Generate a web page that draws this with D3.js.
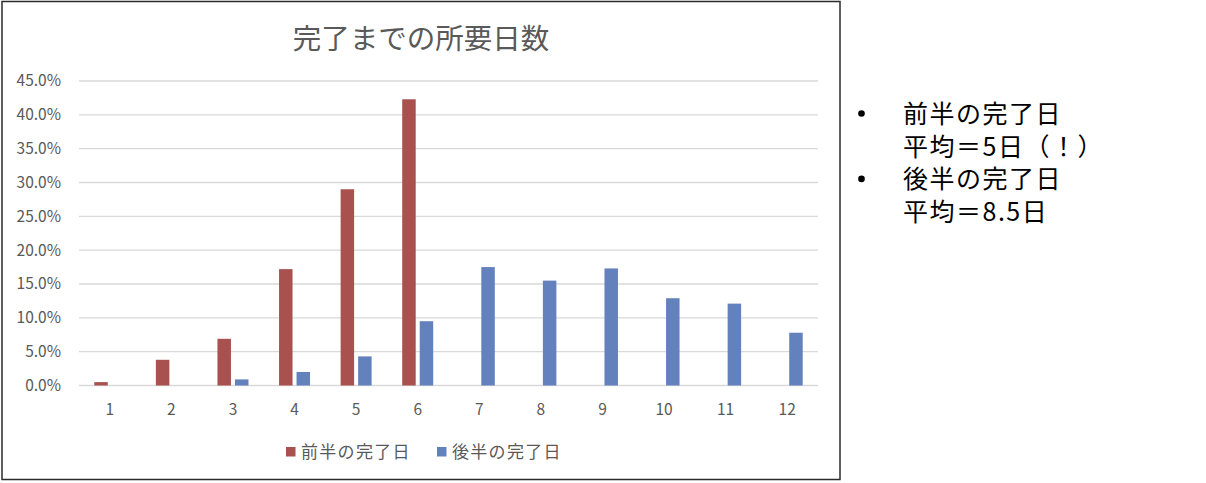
<!DOCTYPE html>
<html lang="ja">
<head>
<meta charset="utf-8">
<script src="https://cdn.jsdelivr.net/npm/d3@7/dist/d3.min.js"></script>
<style>
  html, body { margin: 0; padding: 0; background: #fff; }
  svg { display: block; }
  text { font-family: "Noto Sans CJK JP", "Noto Sans", sans-serif; }
</style>
</head>
<body>
<svg id="chart" width="1206" height="483"></svg>
<script>
// Days until completion (1–12) and share of items per half-period, in percent
const categories = [1, 2, 3, 4, 5, 6, 7, 8, 9, 10, 11, 12];
const firstHalf  = [0.5, 3.8, 6.9, 17.2, 29.0, 42.3, 0, 0, 0, 0, 0, 0];
const secondHalf = [0, 0, 0.9, 2.0, 4.3, 9.5, 17.5, 15.5, 17.3, 12.9, 12.1, 7.8];
const seriesNames = ["前半の完了日", "後半の完了日"];
const yTicks = [0, 5, 10, 15, 20, 25, 30, 35, 40, 45];
const titleText = "完了までの所要日数";
const notes = [
  { bullet: true,  text: "前半の完了日" },
  { bullet: false, text: "平均＝5日（！）" },
  { bullet: true,  text: "後半の完了日" },
  { bullet: false, text: "平均＝8.5日" }
];

const colors = ["#A9514F", "#6381BC"];
const textGrey = "#595959";

const svg = d3.select("#chart");

// Chart frame
svg.append("rect")
  .attr("x", 2).attr("y", 1.5)
  .attr("width", 838).attr("height", 478)
  .attr("fill", "#fff")
  .attr("stroke", "#2b2b2b")
  .attr("stroke-width", 1.5);

// Title
svg.append("text")
  .attr("x", 421).attr("y", 48.5)
  .attr("text-anchor", "middle")
  .attr("font-size", 28.5)
  .attr("fill", textGrey)
  .text(titleText);

const plot = { left: 79, right: 818, top: 81, bottom: 385.5 };

const x = d3.scaleBand()
  .domain(categories)
  .range([plot.left, plot.right])
  .paddingInner(0).paddingOuter(0);

const xSeries = d3.scaleBand()
  .domain([0, 1])
  .range([0, 31])
  .paddingInner(0.23);

const y = d3.scaleLinear()
  .domain([0, 45])
  .range([plot.bottom, plot.top]);

// Gridlines
svg.append("g")
  .selectAll("line")
  .data(yTicks)
  .join("line")
  .attr("x1", plot.left).attr("x2", plot.right)
  .attr("y1", d => y(d)).attr("y2", d => y(d))
  .attr("stroke", "#D9D9D9")
  .attr("stroke-width", 1.3);

// Y axis labels
const yAxis = d3.axisLeft(y)
  .tickValues(yTicks)
  .tickSize(0)
  .tickPadding(0)
  .tickFormat(d => d.toFixed(1) + "%");
svg.append("g")
  .attr("transform", `translate(61,0)`)
  .call(yAxis)
  .call(g => g.select(".domain").remove())
  .call(g => g.selectAll("text")
    .attr("font-size", 15.5)
    .attr("fill", textGrey)
    .attr("font-family", "'Noto Sans CJK JP', sans-serif"));

// X axis labels
const xAxis = d3.axisBottom(x).tickSize(0).tickPadding(0);
svg.append("g")
  .attr("transform", `translate(0,${plot.bottom + 18.5})`)
  .call(xAxis)
  .call(g => g.select(".domain").remove())
  .call(g => g.selectAll("text")
    .attr("font-size", 15.5)
    .attr("fill", textGrey)
    .attr("font-family", "'Noto Sans CJK JP', sans-serif"));

// Bars
const rows = categories.map((c, i) => ({ c, vals: [firstHalf[i], secondHalf[i]] }));
const center = c => x(c) + x.bandwidth() / 2 - 15.5;

svg.append("g")
  .selectAll("g")
  .data(rows)
  .join("g")
  .attr("transform", d => `translate(${center(d.c)},0)`)
  .selectAll("rect")
  .data(d => d.vals.map((v, s) => ({ v, s })).filter(e => e.v > 0))
  .join("rect")
  .attr("x", d => xSeries(d.s))
  .attr("width", xSeries.bandwidth())
  .attr("y", d => y(d.v))
  .attr("height", d => y(0) - y(d.v))
  .attr("fill", d => colors[d.s]);

// Legend
const legendX = [286, 437];
const legend = svg.append("g");
seriesNames.forEach((name, i) => {
  legend.append("rect")
    .attr("x", legendX[i]).attr("y", 447)
    .attr("width", 9.5).attr("height", 9.5)
    .attr("fill", colors[i]);
  legend.append("text")
    .attr("x", legendX[i] + 15).attr("y", 457.5)
    .attr("font-size", 17)
    .attr("letter-spacing", 1.3)
    .attr("fill", textGrey)
    .text(name);
});

// Side notes
const notesG = svg.append("g");
notes.forEach((n, i) => {
  const by = 123 + i * 32.7;
  if (n.bullet) {
    notesG.append("circle")
      .attr("cx", 861.5).attr("cy", by - 9.5)
      .attr("r", 3.3)
      .attr("fill", "#000");
  }
  notesG.append("text")
    .attr("x", 903).attr("y", by)
    .attr("font-size", 25)
    .attr("letter-spacing", 1.5)
    .attr("fill", "#000")
    .text(n.text);
});
</script>
</body>
</html>
